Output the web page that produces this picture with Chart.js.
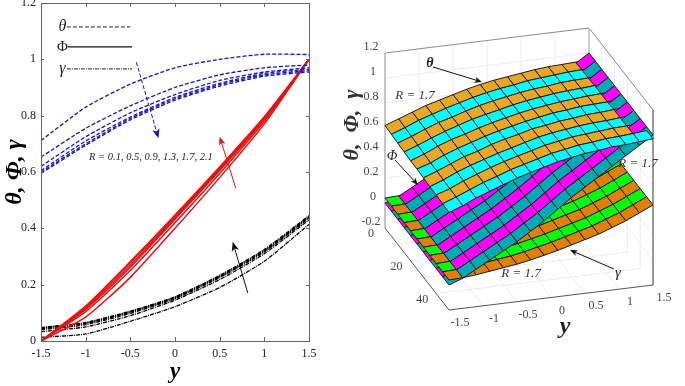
<!DOCTYPE html>
<html lang="en">

<head>
    <meta charset="UTF-8">
    <title>theta, Phi, gamma</title>
    <style>
        html, body { margin: 0; padding: 0; background: #fff; overflow: hidden; }
        canvas { position: absolute; top: 0; }
        #lines { left: 0; }
        #surface { left: 340px; }
    </style>
</head>

<body>
    <canvas id="lines" width="340" height="386"></canvas>
    <canvas id="surface" width="345" height="386"></canvas>

    <script src="https://cdn.jsdelivr.net/npm/chart.js@4/dist/chart.umd.js"></script>
    <script>
        // ---- left panel values
        const yNodes = [-1.5, -1, -0.5, 0, 0.5, 1, 1.5];
        const xTickLabels = ['-1.5', '-1', '-0.5', '0', '0.5', '1', '1.5'];
        const yTickLabels = ['0', '0.2', '0.4', '0.6', '0.8', '1', '1.2'];

        const theta01 = [0.712, 0.83, 0.912, 0.97, 1.0, 1.018, 1.017];
        const theta05 = [0.653, 0.755, 0.835, 0.90, 0.945, 0.97, 0.98];
        const theta09 = [0.62, 0.725, 0.81, 0.875, 0.925, 0.955, 0.97];
        const theta13 = [0.605, 0.71, 0.795, 0.865, 0.915, 0.95, 0.965];
        const theta17 = [0.60, 0.70, 0.79, 0.86, 0.91, 0.945, 0.96];
        const theta21 = [0.595, 0.695, 0.785, 0.855, 0.905, 0.94, 0.955];

        const phi01 = [0, 0.085, 0.226, 0.40, 0.58, 0.771, 1];
        const phi05 = [0, 0.104, 0.25, 0.42, 0.595, 0.78, 1];
        const phi09 = [0, 0.112, 0.262, 0.432, 0.605, 0.787, 1];
        const phi13 = [0, 0.116, 0.27, 0.437, 0.61, 0.79, 1];
        const phi17 = [0, 0.12, 0.278, 0.442, 0.614, 0.793, 1];
        const phi21 = [0, 0.124, 0.282, 0.447, 0.618, 0.796, 1];

        const gamma01 = [0.013, 0.025, 0.07, 0.122, 0.19, 0.283, 0.414];
        const gamma05 = [0.033, 0.05, 0.09, 0.145, 0.218, 0.31, 0.43];
        const gamma09 = [0.04, 0.058, 0.098, 0.15, 0.225, 0.316, 0.436];
        const gamma13 = [0.044, 0.062, 0.102, 0.153, 0.228, 0.32, 0.44];
        const gamma17 = [0.046, 0.064, 0.104, 0.155, 0.231, 0.322, 0.442];
        const gamma21 = [0.048, 0.066, 0.106, 0.157, 0.233, 0.325, 0.445];

        // ---- right panel values (R = 1.7)
        const surfY = [-1.5, -1.3, -1.1, -0.9, -0.7, -0.5, -0.3, -0.1, 0.1, 0.3, 0.5, 0.7, 0.9, 1.1, 1.3, 1.5];
        const surfDepth = [0, 5, 10, 15, 20, 25, 30, 35, 40, 45, 50];
        // theta changes a little with depth, one row per depth
        const surfTheta = [
            [.62, .66, .70, .74, .77, .80, .83, .855, .875, .89, .905, .92, .93, .935, .94, .945],
            [.615, .655, .70, .735, .77, .80, .83, .855, .875, .89, .91, .92, .93, .94, .945, .95],
            [.61, .65, .695, .735, .765, .80, .83, .855, .875, .895, .91, .92, .935, .94, .945, .95],
            [.605, .645, .69, .73, .765, .80, .825, .85, .875, .895, .91, .925, .935, .94, .95, .955],
            [.60, .64, .69, .73, .76, .795, .825, .85, .875, .895, .91, .925, .935, .945, .95, .955],
            [.60, .635, .685, .725, .76, .795, .825, .85, .875, .895, .915, .925, .94, .945, .95, .96],
            [.595, .635, .68, .725, .755, .795, .825, .85, .88, .895, .915, .925, .94, .945, .955, .96],
            [.59, .63, .68, .72, .755, .79, .82, .85, .88, .90, .915, .93, .94, .945, .955, .965],
            [.59, .625, .675, .715, .755, .79, .82, .85, .88, .90, .92, .93, .94, .95, .955, .965],
            [.585, .625, .67, .715, .75, .79, .82, .85, .88, .90, .92, .93, .945, .95, .96, .97],
            [.58, .62, .67, .71, .75, .79, .82, .85, .88, .90, .92, .93, .945, .95, .96, .97]
        ];
        // phi and gamma look flat along depth, so one profile each
        const surfPhi = [0, .04, .10, .16, .22, .28, .35, .42, .50, .58, .65, .72, .79, .86, .93, 1];
        const surfGamma = [.04, .045, .055, .07, .085, .10, .12, .145, .17, .20, .23, .26, .30, .34, .39, .44];

        const zTicks = ['-0.2', '0', '0.2', '0.4', '0.6', '0.8', '1', '1.2'];
        const depthTicks = ['0', '20', '40'];

        const serif = '"Liberation Serif", "Times New Roman", serif';

        function lineSet(values, color, width, dash) {
            return {
                data: yNodes.map((x, i) => ({ x: x, y: values[i] })),
                borderColor: color,
                borderWidth: width,
                borderDash: dash,
                pointRadius: 0,
                tension: 0.2
            };
        }

        const blueDash = [4, 2];
        const blackDot = [4, 1, 1, 1];
        const leftSets = [
            ...[theta01, theta05, theta09, theta13, theta17, theta21].map(v => lineSet(v, '#1414c8', 1.3, blueDash)),
            ...[phi01, phi05, phi09, phi13, phi17, phi21].map(v => lineSet(v, '#e81010', 1.5, [])),
            ...[gamma01, gamma05, gamma09, gamma13, gamma17, gamma21].map(v => lineSet(v, '#000', 1.3, blackDot)),
            // legend samples
            { data: [{ x: -1.21, y: 1.115 }, { x: -0.5, y: 1.115 }], borderColor: '#222', borderWidth: 1, borderDash: blueDash, pointRadius: 0 },
            { data: [{ x: -1.2, y: 1.044 }, { x: -0.48, y: 1.044 }], borderColor: '#111', borderWidth: 1.2, pointRadius: 0 },
            { data: [{ x: -1.21, y: 0.966 }, { x: -0.48, y: 0.966 }], borderColor: '#222', borderWidth: 1, borderDash: blackDot, pointRadius: 0 }
        ];

        function arrow(ctx, x0, y0, x1, y1, color, dash, head) {
            const a = Math.atan2(y1 - y0, x1 - x0);
            ctx.save();
            ctx.strokeStyle = color;
            ctx.fillStyle = color;
            ctx.lineWidth = 1;
            ctx.setLineDash(dash || []);
            ctx.beginPath();
            ctx.moveTo(x0, y0);
            ctx.lineTo(x1 - Math.cos(a) * head * 0.7, y1 - Math.sin(a) * head * 0.7);
            ctx.stroke();
            ctx.setLineDash([]);
            ctx.beginPath();
            ctx.moveTo(x1, y1);
            ctx.lineTo(x1 - Math.cos(a - 0.38) * head, y1 - Math.sin(a - 0.38) * head);
            ctx.lineTo(x1 - Math.cos(a) * head * 0.7, y1 - Math.sin(a) * head * 0.7);
            ctx.lineTo(x1 - Math.cos(a + 0.38) * head, y1 - Math.sin(a + 0.38) * head);
            ctx.closePath();
            ctx.fill();
            ctx.restore();
        }

        function label(ctx, text, x, y, font, color) {
            ctx.save();
            ctx.font = font;
            ctx.fillStyle = color || '#222';
            ctx.textAlign = 'center';
            ctx.textBaseline = 'middle';
            ctx.fillText(text, x, y);
            ctx.restore();
        }

        const leftExtras = {
            id: 'leftExtras',
            afterDraw(chart) {
                const { ctx, chartArea: a, scales: { x, y } } = chart;
                // inward ticks on all four sides
                ctx.save();
                ctx.strokeStyle = '#666';
                ctx.lineWidth = 1;
                ctx.beginPath();
                x.ticks.forEach(t => {
                    const p = Math.round(x.getPixelForValue(t.value)) + 0.5;
                    ctx.moveTo(p, a.top); ctx.lineTo(p, a.top + 4);
                    ctx.moveTo(p, a.bottom); ctx.lineTo(p, a.bottom - 4);
                });
                y.ticks.forEach(t => {
                    const p = Math.round(y.getPixelForValue(t.value)) + 0.5;
                    ctx.moveTo(a.left, p); ctx.lineTo(a.left + 3, p);
                    ctx.moveTo(a.right, p); ctx.lineTo(a.right - 3, p);
                });
                ctx.stroke();
                ctx.strokeRect(a.left + 0.5, a.top + 0.5, a.right - a.left, a.bottom - a.top);
                ctx.restore();

                const px = v => x.getPixelForValue(v);
                const py = v => y.getPixelForValue(v);
                arrow(ctx, px(-0.433), py(0.99), px(-0.185), py(0.72), '#1414c8', [4, 2], 10);
                arrow(ctx, px(0.68), py(0.543), px(0.5), py(0.725), '#e81010', [], 9);
                arrow(ctx, px(0.815), py(0.17), px(0.646), py(0.352), '#111', [], 10);

                const legendFont = 'italic 16px ' + serif;
                label(ctx, '\u03b8', px(-1.26), py(1.115), legendFont);
                label(ctx, '\u03a6', px(-1.26), py(1.044), '15px ' + serif);
                label(ctx, '\u03b3', px(-1.26), py(0.966), legendFont);
                label(ctx, 'R = 0.1, 0.5, 0.9, 1.3, 1.7, 2.1', px(-0.27), py(0.651), 'italic 10.5px ' + serif);
            }
        };

        new Chart(document.getElementById('lines'), {
            type: 'line',
            data: { datasets: leftSets },
            plugins: [leftExtras],
            options: {
                responsive: false,
                animation: false,
                devicePixelRatio: 1,
                layout: { padding: { top: 3, right: 31, left: 0, bottom: 0 } },
                plugins: { legend: { display: false }, tooltip: { enabled: false } },
                scales: {
                    x: {
                        type: 'linear', min: -1.5, max: 1.5,
                        afterFit(s) { s.height = 45; s.paddingLeft = 0; s.paddingRight = 0; },
                        grid: { display: false, drawTicks: false },
                        border: { color: '#666' },
                        ticks: {
                            stepSize: 0.5, maxRotation: 0, autoSkip: false, padding: 6,
                            color: '#222', font: { family: serif, size: 12 },
                            callback: (v, i) => xTickLabels[i]
                        },
                        title: { display: true, text: 'y', color: '#000', padding: 0, font: { family: serif, size: 23, weight: 'bold', style: 'italic' } }
                    },
                    y: {
                        min: 0, max: 1.2,
                        afterFit(s) { s.width = 41; s.paddingTop = 0; s.paddingBottom = 0; },
                        grid: { display: false, drawTicks: false },
                        border: { color: '#666' },
                        ticks: {
                            stepSize: 0.2, autoSkip: false, padding: 5,
                            color: '#222', font: { family: serif, size: 12 },
                            callback: (v, i) => yTickLabels[i]
                        },
                        title: { display: true, text: '\u03b8, \u03a6, \u03b3', color: '#000', padding: 0, font: { family: serif, size: 24, weight: 'bold', style: 'italic' } }
                    }
                }
            }
        });

        // ---- right panel: orthographic view of the box, in page pixels
        const O = [385, 228], U = [204, -25], V = [64, 82], W = [0, -175];
        const fy = y => (y + 1.5) / 3;
        const fd = d => d / 50;
        const fz = z => (z + 0.2) / 1.4;

        function project(y, d, z) {
            return {
                x: O[0] + fy(y) * U[0] + fd(d) * V[0] + fz(z) * W[0],
                y: O[1] + fy(y) * U[1] + fd(d) * V[1] + fz(z) * W[1]
            };
        }
        // larger = closer to the viewer
        const nearness = (y, d, z) => -0.3137 * fy(y) + fd(d) + 0.5135 * fz(z);

        function edge(points, color) {
            return {
                data: points.map(p => project(p[0], p[1], p[2])),
                showLine: true, tension: 0, pointRadius: 0, borderWidth: 1, borderColor: color
            };
        }

        const wallSets = [];
        const gridColor = '#ececec', boxColor = '#8a8a8a';
        for (let z = 0; z <= 1.0; z += 0.2) {
            wallSets.push(edge([[-1.5, 0, z], [1.5, 0, z], [1.5, 50, z]], gridColor));
        }
        [-1, -0.5, 0, 0.5, 1].forEach(y => {
            wallSets.push(edge([[y, 50, -0.2], [y, 0, -0.2], [y, 0, 1.2]], gridColor));
        });
        [10, 20, 30, 40].forEach(d => {
            wallSets.push(edge([[-1.5, d, -0.2], [1.5, d, -0.2], [1.5, d, 1.2]], gridColor));
        });
        wallSets.push(edge([[-1.5, 0, -0.2], [-1.5, 0, 1.2], [1.5, 0, 1.2], [1.5, 50, 1.2], [1.5, 50, -0.2]], boxColor));
        wallSets.push(edge([[1.5, 0, 1.2], [1.5, 0, -0.2]], '#c8c8c8'));
        wallSets.push(edge([[-1.5, 0, -0.2], [-1.5, 50, -0.2], [1.5, 50, -0.2]], '#555'));

        const quads = [];
        function addSurface(heightAt, colors) {
            for (let r = 0; r < surfDepth.length - 1; r++) {
                for (let c = 0; c < surfY.length - 1; c++) {
                    const d0 = surfDepth[r], d1 = surfDepth[r + 1], y0 = surfY[c], y1 = surfY[c + 1];
                    const corners = [
                        [y0, d0, heightAt(r, c)], [y1, d0, heightAt(r, c + 1)],
                        [y1, d1, heightAt(r + 1, c + 1)], [y0, d1, heightAt(r + 1, c)], [y0, d0, heightAt(r, c)]
                    ];
                    const mean = corners.slice(0, 4).reduce((s, p) => s + nearness(p[0], p[1], p[2]), 0) / 4;
                    quads.push({
                        near: mean,
                        set: {
                            data: corners.map(p => project(p[0], p[1], p[2])),
                            showLine: true, tension: 0, pointRadius: 0, fill: 'shape',
                            borderWidth: 1, borderColor: '#1a1a1a', backgroundColor: colors[r % 2]
                        }
                    });
                }
            }
        }
        addSurface((r, c) => surfGamma[c], ['#00ff00', '#e08000']);
        addSurface((r, c) => surfPhi[c], ['#ff00ff', '#00aab4']);
        addSurface((r, c) => surfTheta[r][c], ['#e8a826', '#00ffff']);
        quads.sort((a, b) => a.near - b.near);

        // far to near; later entries get lower order so they paint on top
        const rightSets = [...wallSets, ...quads.map(q => q.set)];
        rightSets.forEach((s, i) => { s.order = -i; });

        const rightExtras = {
            id: 'rightExtras',
            afterDraw(chart) {
                const { ctx, scales: { x, y } } = chart;
                const tickFont = '12px ' + serif, grey = '#444';
                const at = (p, dx, dy) => [x.getPixelForValue(p.x + dx), y.getPixelForValue(p.y + dy)];

                zTicks.forEach(t => {
                    const p = at(project(-1.5, 0, parseFloat(t)), -12, -6);
                    label(ctx, t, p[0] - (t.length > 2 ? 2 : 0), p[1], tickFont, grey);
                });
                depthTicks.forEach(t => {
                    const p = at(project(-1.5, 0 + parseFloat(t), -0.2), -14, 6);
                    label(ctx, t, p[0], p[1], tickFont, grey);
                });
                xTickLabels.forEach(t => {
                    const p = at(project(parseFloat(t), 50, -0.2), 11, 13);
                    label(ctx, t, p[0], p[1], tickFont, grey);
                });

                // text and arrows are placed by page position on the same scales
                const put = (text, px, py, font, color) => label(ctx, text, x.getPixelForValue(px), y.getPixelForValue(py), font, color);
                const pointer = (a, b, c, d) => arrow(ctx, x.getPixelForValue(a), y.getPixelForValue(b), x.getPixelForValue(c), y.getPixelForValue(d), '#111', [], 8);
                const note = 'italic 13px ' + serif;
                put('y', 565, 327, 'bold italic 24px ' + serif, '#222');
                put('\u03b8', 430, 63, 'italic bold 14px ' + serif, '#222');
                put('\u03a6', 392, 156, 'italic 14px ' + serif, '#222');
                put('\u03b3', 618, 273, 'italic 15px ' + serif, '#222');
                put('R = 1.7', 415, 96, note, '#333');
                put('R = 1.7', 638, 164, note, '#333');
                put('R = 1.7', 521, 274, note, '#333');
                pointer(433, 67, 482, 82);
                pointer(395, 160, 418, 185);
                pointer(614, 269, 570, 250);

                ctx.save();
                ctx.translate(x.getPixelForValue(352), y.getPixelForValue(125));
                ctx.rotate(-Math.PI / 2);
                label(ctx, '\u03b8,  \u03a6,  \u03b3', 0, 0, 'italic bold 22px ' + serif, '#333');
                ctx.restore();
            }
        };

        new Chart(document.getElementById('surface'), {
            type: 'scatter',
            data: { datasets: rightSets },
            plugins: [rightExtras],
            options: {
                responsive: false,
                animation: false,
                devicePixelRatio: 1,
                layout: { padding: 0 },
                plugins: { legend: { display: false }, tooltip: { enabled: false } },
                scales: {
                    x: { type: 'linear', min: 340, max: 685, display: false },
                    y: { type: 'linear', min: 0, max: 386, reverse: true, display: false }
                }
            }
        });
    </script>
</body>

</html>
